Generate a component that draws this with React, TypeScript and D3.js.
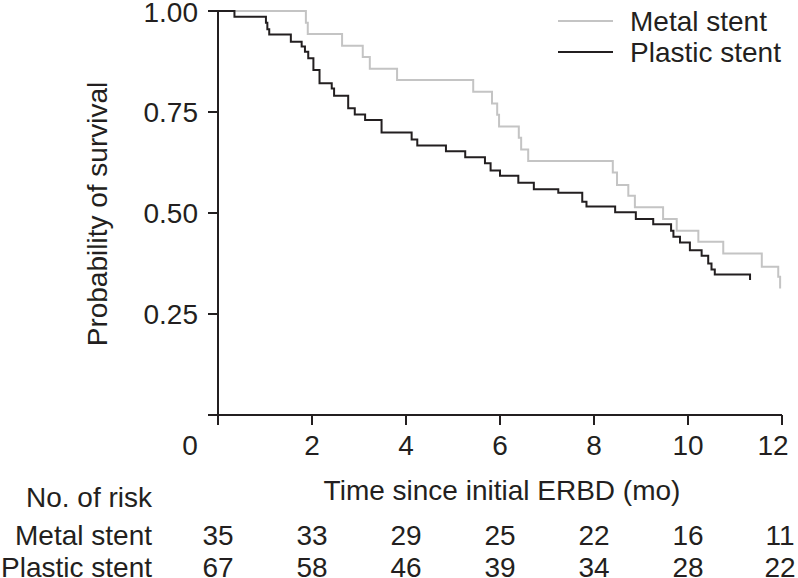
import React from "react";
import * as d3 from "d3";

const xTicks = [0, 2, 4, 6, 8, 10, 12];
const yTicks = [0, 0.25, 0.5, 0.75, 1.0];
const yTickLabels = ["", "0.25", "0.50", "0.75", "1.00"];

const metalTimes = [0, 1.87, 1.91, 2.64, 3.08, 3.23, 3.81, 5.43, 5.83, 5.94, 5.98, 6.40, 6.45, 6.60, 8.40, 8.49, 8.73, 8.87, 9.47, 9.76, 10.22, 10.75, 11.57, 11.92, 11.96];
const metalSurv = [1, 0.971, 0.943, 0.914, 0.886, 0.857, 0.829, 0.800, 0.771, 0.743, 0.714, 0.686, 0.657, 0.629, 0.600, 0.569, 0.543, 0.514, 0.485, 0.456, 0.429, 0.400, 0.367, 0.342, 0.313];

const plasticTimes = [0, 0.35, 1.02, 1.05, 1.09, 1.55, 1.78, 1.85, 1.92, 2.03, 2.16, 2.42, 2.47, 2.77, 2.91, 3.13, 3.48, 4.12, 4.24, 4.85, 5.26, 5.68, 5.80, 6.00, 6.39, 6.72, 7.24, 7.75, 7.84, 8.45, 8.89, 9.26, 9.64, 9.69, 9.83, 10.04, 10.29, 10.43, 10.50, 10.57, 11.32];
const plasticSurv = [1, 0.986, 0.971, 0.955, 0.942, 0.924, 0.912, 0.899, 0.883, 0.854, 0.821, 0.808, 0.790, 0.759, 0.744, 0.730, 0.699, 0.682, 0.667, 0.653, 0.638, 0.623, 0.605, 0.592, 0.575, 0.559, 0.550, 0.528, 0.516, 0.502, 0.485, 0.472, 0.456, 0.441, 0.427, 0.408, 0.394, 0.375, 0.360, 0.348, 0.334];

const seriesNames = ["Metal stent", "Plastic stent"];
const metalAtRisk = [35, 33, 29, 25, 22, 16, 11];
const plasticAtRisk = [67, 58, 46, 39, 34, 28, 22];

const INK = "#231f20";
const GRAY = "#c4c4c4";
const FONT = "'Liberation Sans', Arial, Helvetica, sans-serif";

export default function App() {
  const W = 798, H = 578;
  const x = d3.scaleLinear().domain([0, 12]).range([218, 782]);
  const y = d3.scaleLinear().domain([0, 1]).range([415, 11]);
  const line = d3
    .line<[number, number]>()
    .x((d) => x(d[0]))
    .y((d) => y(d[1]))
    .curve(d3.curveStepAfter);
  const metal: [number, number][] = metalTimes.map((t, i) => [t, metalSurv[i]]);
  const plastic: [number, number][] = plasticTimes.map((t, i) => [t, plasticSurv[i]]);
  const fs = 28;
  return (
    <svg
      width={W}
      height={H}
      style={{ position: "absolute", left: 0, top: 0, background: "#fff" }}
      fontFamily={FONT}
    >
      {/* axes */}
      <line x1={x(0)} x2={x(0)} y1={y(1)} y2={y(0) + 10} stroke={INK} strokeWidth={2} />
      <line x1={x(0) - 10} x2={x(12)} y1={y(0)} y2={y(0)} stroke={INK} strokeWidth={2} />
      {yTicks.map((t, i) => (
        <g key={"yt" + i}>
          <line x1={x(0) - 10} x2={x(0)} y1={y(t)} y2={y(t)} stroke={INK} strokeWidth={2} />
          <text x={198} y={y(t) + (t === 1 ? 1 : 0)} dy="0.36em" textAnchor="end" fontSize={fs} fill={INK}>
            {yTickLabels[i]}
          </text>
        </g>
      ))}
      {xTicks.map((t, i) => (
        <g key={"xt" + i}>
          <line x1={x(t)} x2={x(t)} y1={y(0)} y2={y(0) + 10} stroke={INK} strokeWidth={2} />
          <text x={t === 0 ? 190 : t === 12 ? 773 : x(t)} y={445} dy="0.36em" textAnchor="middle" fontSize={fs} fill={INK}>
            {t}
          </text>
        </g>
      ))}
      <text
        transform={`translate(97,${214}) rotate(-90)`}
        textAnchor="middle"
        dy="0.36em"
        fontSize={fs}
        fill={INK}
      >
        Probability of survival
      </text>
      <text x={502} y={490} dy="0.36em" textAnchor="middle" fontSize={fs} fill={INK}>
        Time since initial ERBD (mo)
      </text>

      {/* curves */}
      <path d={line(metal) || ""} fill="none" stroke={GRAY} strokeWidth={2} />
      <path d={line(plastic) || ""} fill="none" stroke={INK} strokeWidth={2} />

      {/* legend */}
      <line x1={558} x2={613} y1={21} y2={21} stroke={GRAY} strokeWidth={2} />
      <line x1={558} x2={613} y1={52} y2={52} stroke={INK} strokeWidth={2} />
      <text x={630} y={21} dy="0.36em" fontSize={fs} fill={INK}>{seriesNames[0]}</text>
      <text x={630} y={52} dy="0.36em" fontSize={fs} fill={INK}>{seriesNames[1]}</text>

      {/* risk table */}
      <text x={152} y={497} dy="0.36em" textAnchor="end" fontSize={fs} fill={INK}>No. of risk</text>
      <text x={152} y={535} dy="0.36em" textAnchor="end" fontSize={fs} fill={INK}>{seriesNames[0]}</text>
      <text x={152} y={567} dy="0.36em" textAnchor="end" fontSize={fs} fill={INK}>{seriesNames[1]}</text>
      {xTicks.map((t, i) => (
        <g key={"r" + i}>
          <text x={t === 12 ? 780 : x(t)} y={535} dy="0.36em" textAnchor="middle" fontSize={fs} fill={INK}>{metalAtRisk[i]}</text>
          <text x={t === 12 ? 780 : x(t)} y={567} dy="0.36em" textAnchor="middle" fontSize={fs} fill={INK}>{plasticAtRisk[i]}</text>
        </g>
      ))}
    </svg>
  );
}
